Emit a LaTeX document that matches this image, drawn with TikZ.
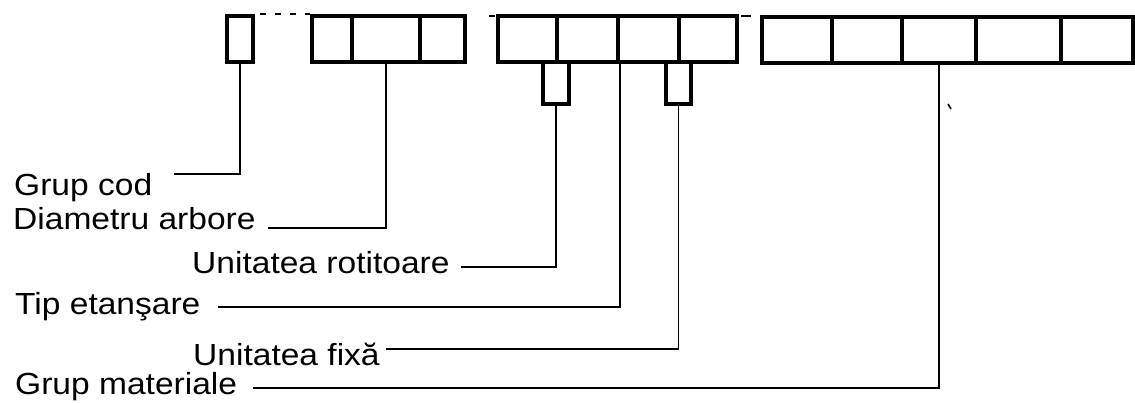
\documentclass[tikz,border=0pt]{standalone}
\usepackage{fontspec}
\setmainfont{Liberation Sans}
\begin{document}
\begin{tikzpicture}[x=1pt,y=-1pt,
  cell/.style={draw, line width=3.4pt, rectangle, inner sep=0pt, minimum height=46pt},
  tab/.style={draw, line width=3.2pt, rectangle, inner sep=0pt, minimum height=42pt},
  lbl/.style={anchor=base west, inner sep=0pt, font=\fontsize{30.5}{36}\selectfont},
  conn/.style={line width=1.7pt},
  gapline/.style={line width=1.6pt, dash pattern=on 6pt off 9pt}
]
\useasboundingbox (0,0) rectangle (1135,403);
% small tabs below (drawn first)
\node[tab, minimum width=26pt] (s1) at (556,83) {};
\node[tab, minimum width=25pt] (s2) at (678.5,83) {};
% group 1
\node[cell, minimum width=26pt] (g1) at (240,39) {};
% group 2
\node[cell, minimum width=40pt] (b1) at (332,39) {};
\node[cell, minimum width=68pt] (b2) at (386,39) {};
\node[cell, minimum width=45pt] (b3) at (442.5,39) {};
% group 3
\node[cell, minimum width=59pt] (c1) at (527.5,39) {};
\node[cell, minimum width=61pt] (c2) at (587.5,39) {};
\node[cell, minimum width=61pt] (c3) at (648.5,39) {};
\node[cell, minimum width=58pt] (c4) at (708,39) {};
% group 4
\node[cell, minimum width=70pt] (d1) at (797,40) {};
\node[cell, minimum width=70pt] (d2) at (867,40) {};
\node[cell, minimum width=74pt] (d3) at (939,40) {};
\node[cell, minimum width=85pt] (d4) at (1018.5,40) {};
\node[cell, minimum width=72pt] (d5) at (1097,40) {};
% dashed continuation along the top
\draw[gapline] (g1.north east) ++(5,0) -- (b1.north west);
\draw[line width=1.6pt] (489,16) -- (495,16);
\draw[line width=1.6pt] (741,16) -- (751,16);
% stray mark
\draw[line width=1.6pt] (948,104) -- (951,109);
% labels
\node[lbl] (lgc) at (14,196) {\scalebox{1.1}[1]{Grup cod}};
\node[lbl] (lda) at (13,230) {\scalebox{1.1}[1]{Diametru arbore}};
\node[lbl] (lur) at (192,274) {\scalebox{1.1}[1]{Unitatea rotitoare}};
\node[lbl] (lte) at (15,315) {\scalebox{1.1}[1]{Tip etanşare}};
\node[lbl] (luf) at (193,365) {\scalebox{1.1}[1]{Unitatea fixă}};
\node[lbl] (lgm) at (15,394) {\scalebox{1.1}[1]{Grup materiale}};
% connector start points
\coordinate (kgc) at (174,174);
\coordinate (kda) at (268,228);
\coordinate (kur) at (461,267);
\coordinate (kte) at (218,307);
\coordinate (kuf) at (386,349);
\coordinate (kgm) at (253,388);
% connectors
\draw[conn] (kgc) -| (g1.south);
\draw[conn] (kda) -| (b2.south);
\draw[conn] (kur) -| (s1.south);
\draw[conn] (kte) -| (c2.south east);
\draw[conn] (kuf) -| (s2.south);
\draw[conn] (kgm) -| (d3.south);
\end{tikzpicture}
\end{document}
